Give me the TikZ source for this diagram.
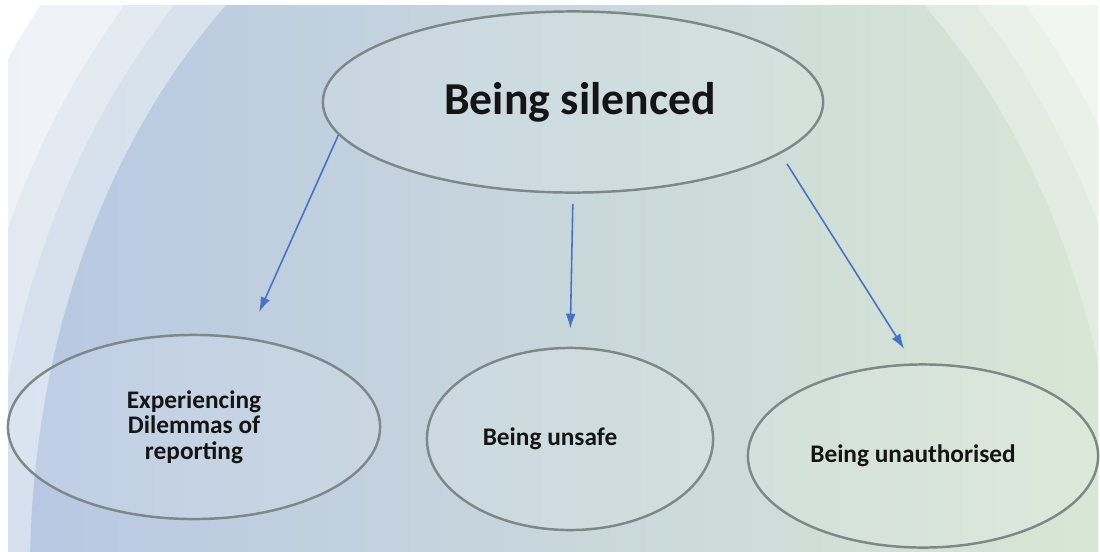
\documentclass[tikz,border=0pt]{standalone}
\usepackage{fontspec}
\setmainfont{Carlito}
\usetikzlibrary{shapes.geometric,arrows.meta}

\definecolor{mainleft}{HTML}{B8C8E3}
\definecolor{mainmid}{HTML}{CFDCE6}
\definecolor{mainright}{HTML}{D9E7D4}
\definecolor{ringoneleft}{HTML}{D6E0EF}
\definecolor{ringoneright}{HTML}{E3EDE0}
\definecolor{ringtwoleft}{HTML}{E2E9F3}
\definecolor{ringtworight}{HTML}{EBF2E8}
\definecolor{ringthreeleft}{HTML}{EEF2F8}
\definecolor{ringthreeright}{HTML}{F3F7F1}
\definecolor{bordergray}{HTML}{7E8888}
\definecolor{linkblue}{HTML}{4A72C2}
\definecolor{textdark}{HTML}{141414}

\begin{document}
\begin{tikzpicture}[x=0.01cm,y=-0.01cm,
  bubble/.style={ellipse,draw=bordergray,line width=0.7pt,fill=white,
    fill opacity=0.12,text opacity=1,inner sep=0pt,text=textdark,align=center,
    font=\bfseries\fontsize{7.2}{7.2}\selectfont},
  link/.style={-{Latex[length=0.15cm,width=0.1cm]},draw=linkblue,line width=0.45pt}]

  \useasboundingbox (0,0) rectangle (1100,551);
  \fill[white] (0,0) rectangle (1100,551);

  \begin{scope}
    \clip (8,5) rectangle (1098,551);
    \shade[left color=ringthreeleft,right color=ringthreeright]
      (575,573) ellipse [x radius=695, y radius=889];
    \shade[left color=ringtwoleft,right color=ringtworight]
      (575,573) ellipse [x radius=625, y radius=819];
    \shade[left color=ringoneleft,right color=ringoneright]
      (575,573) ellipse [x radius=585, y radius=779];
    \shade[left color=mainleft,middle color=mainmid,right color=mainright]
      (575,573) ellipse [x radius=545, y radius=739];
  \end{scope}

  \node[bubble,minimum width=5.0cm,minimum height=1.81cm,
    font=\bfseries\fontsize{13}{15}\selectfont] (top) at (573,102)
    {\hspace*{0.14cm}Being silenced};
  \node[bubble,minimum width=3.72cm,minimum height=1.84cm] (dilemma) at (194,427)
    {Experiencing\\Dilemmas of\\reporting};
  \node[bubble,minimum width=2.86cm,minimum height=1.82cm] (unsafe) at (570,439)
    {Being unsafe\hspace*{0.4cm}};
  \node[bubble,minimum width=3.5cm,minimum height=1.83cm] (unauth) at (923,456)
    {Being unauthorised\hspace*{0.2cm}};

  \draw[link,shorten >=0.28cm] (top.188) -- (dilemma.59);
  \draw[link,shorten <=0.1cm,shorten >=0.18cm] (top.south) -- (unsafe.north);
  \draw[link,shorten <=0.12cm,shorten >=0.17cm] (top.-14) -- (unauth.96);
\end{tikzpicture}
\end{document}
